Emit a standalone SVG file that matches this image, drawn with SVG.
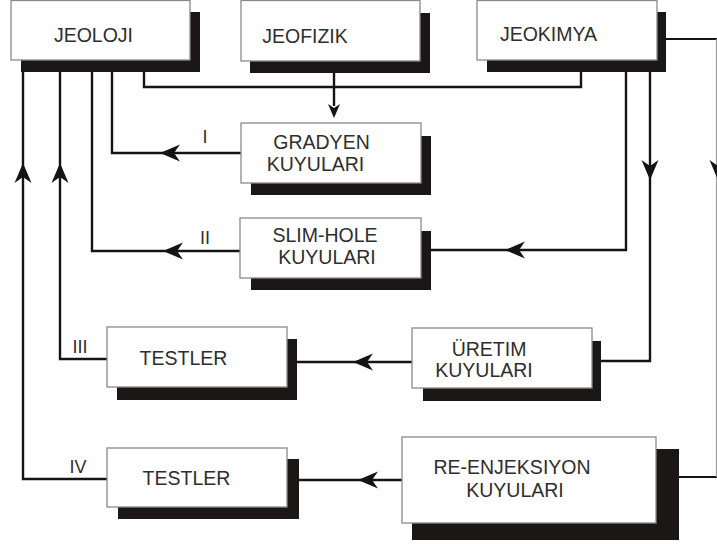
<svg xmlns="http://www.w3.org/2000/svg" width="717" height="544" viewBox="0 0 717 544">
<style>
.box{fill:#fff;stroke:#8a8a8a;stroke-width:1.3}
.sh{fill:#1b1717}
.t{font-family:"Liberation Sans",Arial,sans-serif;font-size:19.5px;fill:#2e2e2e;text-anchor:middle}
.lb{font-family:"Liberation Sans",Arial,sans-serif;font-size:18px;fill:#2e2e2e;text-anchor:middle}
.c{fill:none;stroke:#141414;stroke-width:2.4}
.ah{fill:#141414}
</style>
<defs>
<path id="arr" d="M0,0 L-20,-8.5 L-14,0 L-20,8.5 Z"/>
<path id="arrs" d="M0,0 L-14,-6 L-10,0 L-14,6 Z"/>
</defs>
<rect width="717" height="544" fill="#fff"/>
<g id="connectors">
<polyline class="c" points="144,70 144,87 581,87 581,70"/>
<polyline class="c" points="334,72 334,106"/>
<polyline class="c" points="112,70 112,153 241,153"/>
<polyline class="c" points="92,70 92,251 240,251"/>
<polyline class="c" points="60,70 60,359 107,359"/>
<polyline class="c" points="23,70 23,479 107,479"/>
<polyline class="c" points="626,70 626,250 431,250"/>
<polyline class="c" points="650,70 650,361 601,361"/>
<polyline class="c" points="412,362 297,362"/>
<polyline class="c" points="402,480 299,480"/>
<polyline fill="none" stroke="#141414" stroke-width="2" points="666,39 717,39"/>
<polyline fill="none" stroke="#141414" stroke-width="2" points="679,477 717,477"/>
<line x1="716.5" y1="39" x2="716.5" y2="477" stroke="#9a9a9a" stroke-width="1.2"/>
<use href="#arrs" class="ah" transform="translate(334,118) rotate(90)"/>
<use href="#arr" class="ah" transform="translate(160,153) rotate(180)"/>
<use href="#arr" class="ah" transform="translate(163,251) rotate(180)"/>
<use href="#arr" class="ah" transform="translate(505,250) rotate(180)"/>
<use href="#arr" class="ah" transform="translate(650,180) rotate(90)"/>
<use href="#arr" class="ah" transform="translate(718,180) rotate(90)"/>
<use href="#arr" class="ah" transform="translate(353,362) rotate(180)"/>
<use href="#arr" class="ah" transform="translate(358,480) rotate(180)"/>
<use href="#arr" class="ah" transform="translate(23,163) rotate(-90)"/>
<use href="#arr" class="ah" transform="translate(60,163) rotate(-90)"/>
<text class="lb" x="205" y="143">I</text>
<text class="lb" x="205" y="244">II</text>
<text class="lb" x="80" y="353">III</text>
<text class="lb" x="78" y="473">IV</text>
</g>
<g id="jeoloji">
<rect class="sh" x="21" y="12" width="179" height="60"/>
<rect class="box" x="11" y="0.5" width="179" height="59.5"/>
<text class="t" x="93.5" y="42">JEOLOJI</text>
</g>
<g id="jeofizik">
<rect class="sh" x="250" y="13" width="180" height="60"/>
<rect class="box" x="241" y="0.5" width="179" height="60.5"/>
<text class="t" x="305" y="43">JEOFIZIK</text>
</g>
<g id="jeokimya">
<rect class="sh" x="487" y="12" width="179" height="60"/>
<rect class="box" x="477" y="0.5" width="180" height="59.5"/>
<text class="t" x="548.5" y="41">JEOKIMYA</text>
</g>
<g id="gradyen">
<rect class="sh" x="251" y="136" width="180" height="59"/>
<rect class="box" x="241" y="123" width="180" height="60"/>
<text class="t" x="321.5" y="149">GRADYEN</text>
<text class="t" x="315.5" y="171">KUYULARI</text>
</g>
<g id="slimhole">
<rect class="sh" x="251" y="231" width="180" height="59"/>
<rect class="box" x="240" y="218" width="181" height="60"/>
<text class="t" x="325" y="242">SLIM-HOLE</text>
<text class="t" x="327" y="264">KUYULARI</text>
</g>
<g id="uretim">
<rect class="sh" x="423" y="341" width="178" height="60"/>
<rect class="box" x="412" y="328" width="180" height="60"/>
<text class="t" x="489" y="356">ÜRETIM</text>
<text class="t" x="484" y="377">KUYULARI</text>
</g>
<g id="testler3">
<rect class="sh" x="117" y="339" width="180" height="61"/>
<rect class="box" x="107" y="327" width="180" height="60"/>
<text class="t" x="183.5" y="365">TESTLER</text>
</g>
<g id="testler4">
<rect class="sh" x="118" y="459" width="181" height="60"/>
<rect class="box" x="107" y="448" width="180" height="59"/>
<text class="t" x="186.5" y="485">TESTLER</text>
</g>
<g id="reenjeksiyon">
<rect class="sh" x="412" y="449" width="267" height="91"/>
<rect class="box" x="402" y="437" width="254" height="86"/>
<text class="t" x="512" y="474">RE-ENJEKSIYON</text>
<text class="t" x="515" y="497">KUYULARI</text>
</g>
</svg>
